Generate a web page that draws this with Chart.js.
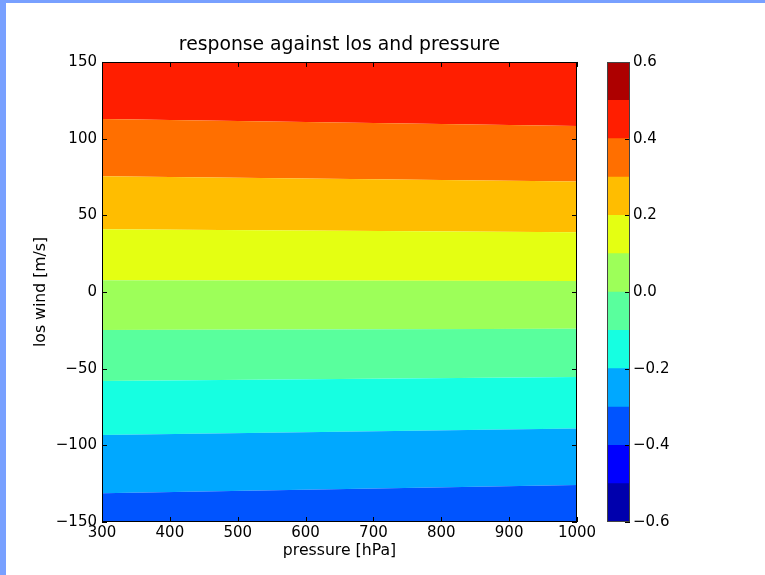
<!DOCTYPE html>
<html><head><meta charset="utf-8">
<script src="https://cdn.jsdelivr.net/npm/chart.js@4"></script>
<style>
html,body{margin:0;padding:0;background:#fff;}
#wrap{position:relative;width:765px;height:575px;overflow:hidden;background:#fff;}
#main{position:absolute;left:0;top:0;}
#cbar{position:absolute;left:590px;top:0;}
.edge{position:absolute;background:#78a0ff;}
</style></head><body>
<div id="wrap">
<canvas id="main" width="765" height="575"></canvas>
<canvas id="cbar" width="175" height="575"></canvas>
<div class="edge" style="left:0;top:0;width:765px;height:3px"></div>
<div class="edge" style="left:0;top:0;width:6px;height:575px"></div>
</div>
<script>
// ---- data ----
const pressure = [300, 1000];
const boundaryLevels = [-0.3, -0.2, -0.1, 0.0, 0.1, 0.2, 0.3, 0.4, 0.5];
const boundaryAt300  = [-131.3, -93.2, -58.0, -24.8, 7.7, 40.9, 75.5, 112.8, 150];
const boundaryAt1000 = [-125.8, -89.1, -55.4, -23.9, 7.2, 39.0, 72.0, 108.3, 150];
const xTicks = [300, 400, 500, 600, 700, 800, 900, 1000];
const yTicks = [-150, -100, -50, 0, 50, 100, 150];
const cbarLevels = [-0.6, -0.5, -0.4, -0.3, -0.2, -0.1, 0.0, 0.1, 0.2, 0.3, 0.4, 0.5, 0.6];
const cbarTicks = [-0.6, -0.4, -0.2, 0.0, 0.2, 0.4, 0.6];
const bandColors = ['#0000ad','#0000ff','#0054ff','#00a8ff','#16ffe1','#59ff9d',
                    '#9dff59','#e4ff12','#ffbd00','#ff6f00','#ff1e00','#ad0000'];

const FONT = 'DejaVu Sans';
const minus = s => s.replace('-', '\u2212');

const frameTicks = {
  id: 'frameTicks',
  afterDraw(chart, args, opts) {
    const {ctx, chartArea: a, scales} = chart;
    const L = opts.len;
    ctx.save();
    ctx.lineWidth = 1;
    ctx.strokeStyle = opts.tickColor;
    ctx.beginPath();
    if (opts.xTicks) {
      for (const t of scales.x.ticks) {
        const px = Math.round(scales.x.getPixelForValue(t.value)) + 0.5;
        ctx.moveTo(px, a.bottom); ctx.lineTo(px, a.bottom - L);
        ctx.moveTo(px, a.top); ctx.lineTo(px, a.top + L);
      }
    }
    for (const t of scales.y.ticks) {
      const py = Math.round(scales.y.getPixelForValue(t.value)) + 0.5;
      if (opts.left) { ctx.moveTo(a.left, py); ctx.lineTo(a.left + L, py); }
      if (opts.right) { ctx.moveTo(a.right, py); ctx.lineTo(a.right - L, py); }
    }
    ctx.stroke();
    ctx.strokeStyle = opts.frameColor;
    ctx.strokeRect(Math.round(a.left) + 0.5, Math.round(a.top) + 0.5,
                   Math.round(a.right - a.left) - 1, Math.round(a.bottom - a.top) - 1);
    ctx.restore();
  }
};

// ---- main contour chart ----
const datasets = boundaryLevels.map((lev, k) => ({
  type: 'line',
  data: pressure.map((p, i) => ({x: p, y: i === 0 ? boundaryAt300[k] : boundaryAt1000[k]})),
  borderWidth: 0,
  borderColor: 'transparent',
  pointRadius: 0,
  tension: 0,
  fill: k === 0 ? 'start' : '-1',
  backgroundColor: bandColors[Math.round((lev + 0.6) / 0.1) - 1]
}));

new Chart(document.getElementById('main'), {
  type: 'line',
  data: {datasets},
  plugins: [frameTicks],
  options: {
    responsive: false,
    animation: false,
    layout: {padding: {left: 28, right: 188, top: 0, bottom: 11}},
    plugins: {
      legend: {display: false},
      tooltip: {enabled: false},
      title: {
        display: true, text: 'response against los and pressure', fullSize: false,
        color: '#000', font: {family: FONT, size: 18.8, weight: 'normal'},
        padding: {top: 33.7, bottom: 5.7}
      },
      filler: {propagate: false},
      frameTicks: {len: 5, xTicks: true, left: true, right: true, tickColor: '#000', frameColor: '#000'}
    },
    scales: {
      x: {
        type: 'linear', min: 300, max: 1000,
        grid: {display: false, drawTicks: false},
        border: {display: false},
        ticks: {color: '#000', font: {family: FONT, size: 15}, padding: 2, maxRotation: 0,
                callback: v => String(v)},
        afterBuildTicks: s => { s.ticks = xTicks.map(v => ({value: v})); },
        afterFit: s => { s.height = 42; },
        title: {display: true, text: 'pressure [hPa]', color: '#000',
                font: {family: FONT, size: 15.7}, padding: {top: 4, bottom: 4}}
      },
      y: {
        type: 'linear', min: -150, max: 150,
        grid: {display: false, drawTicks: false},
        border: {display: false},
        ticks: {color: '#000', font: {family: FONT, size: 15}, padding: 5,
                callback: v => minus(String(v))},
        afterBuildTicks: s => { s.ticks = yTicks.map(v => ({value: v})); },
        afterFit: s => { s.width = 74; },
        title: {display: true, text: 'los wind [m/s]', color: '#000',
                font: {family: FONT, size: 15.7}, padding: {top: 4, bottom: 4}}
      }
    }
  }
});

// ---- colour bar ----
new Chart(document.getElementById('cbar'), {
  type: 'bar',
  data: {
    labels: [''],
    datasets: bandColors.map((c, i) => ({
      data: [[cbarLevels[i], cbarLevels[i + 1]]],
      backgroundColor: c, borderWidth: 0, borderSkipped: false,
      barPercentage: 1, categoryPercentage: 1
    }))
  },
  plugins: [frameTicks],
  options: {
    responsive: false,
    animation: false,
    layout: {padding: {left: 17, right: 0, top: 62, bottom: 53}},
    plugins: {
      legend: {display: false},
      tooltip: {enabled: false},
      frameTicks: {len: 5, xTicks: false, left: false, right: true, tickColor: '#000', frameColor: '#444'}
    },
    scales: {
      x: {display: false, stacked: true},
      y: {
        position: 'right', min: -0.6, max: 0.6, stacked: false,
        grid: {display: false, drawTicks: false},
        border: {display: false},
        ticks: {color: '#000', font: {family: FONT, size: 15}, padding: 3,
                callback: v => Math.abs(v) < 1e-9 ? '0.0' : minus(v.toFixed(1))},
        afterBuildTicks: s => { s.ticks = cbarTicks.map(v => ({value: v})); },
        afterFit: s => { s.width = 135; }
      }
    }
  }
});
</script>
</body></html>
